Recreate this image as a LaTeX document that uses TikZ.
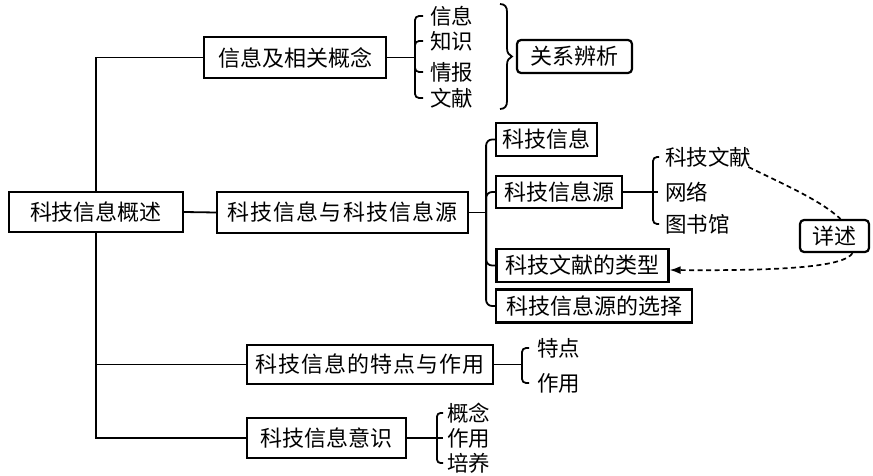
\documentclass[tikz,border=0pt]{standalone}
\usepackage{fontspec}
\setmainfont{Noto Sans CJK SC}
\usetikzlibrary{arrows.meta,calc}
\begin{document}
\begin{tikzpicture}[x=1pt,y=-1pt,
  mybox/.style={draw,line width=2.2pt,inner sep=0pt,font=\fontsize{22}{24}\selectfont},
  widebox/.style={mybox,font=\fontsize{22}{24}\selectfont\addfontfeature{LetterSpace=5}},
  rbox/.style={mybox,rounded corners=4pt},
  item/.style={anchor=west,inner sep=0pt,font=\fontsize{21.5}{23}\selectfont},
  conn/.style={line width=1.8pt},
  brace/.style={line width=1.8pt,rounded corners=4pt},
  dashconn/.style={line width=1.7pt,dash pattern=on 5pt off 3.5pt}]
\useasboundingbox[fill=white] (0,0) rectangle (873,476);

% main boxes
\node[mybox,minimum width=174pt,minimum height=40pt] (root) at (96,212) {科技信息概述};
\node[mybox,minimum width=182pt,minimum height=41pt] (b1) at (295,57.5) {信息及相关概念};
\node[widebox,minimum width=251pt,minimum height=41pt] (b2) at (342.5,212.5) {科技信息与科技信息源};
\node[widebox,minimum width=246pt,minimum height=39pt] (b3) at (370,364.5) {科技信息的特点与作用};
\node[mybox,minimum width=159pt,minimum height=40pt] (b4) at (326.5,438) {科技信息意识};

% second level boxes
\node[rbox,minimum width=115pt,minimum height=33pt] (rel) at (574.5,56.5) {关系辨析};
\node[mybox,minimum width=101pt,minimum height=33pt] (c1) at (546.5,139.5) {科技信息};
\node[mybox,minimum width=126pt,minimum height=32pt] (c2) at (559,192) {科技信息源};
\node[mybox,minimum width=172pt,minimum height=33pt] (c3) at (582.5,265.5) {科技文献的类型};
\node[mybox,minimum width=196pt,minimum height=33pt] (c4) at (594,306) {科技信息源的选择};
\node[rbox,minimum width=69pt,minimum height=32pt] (xs) at (834.5,236) {详述};

% items
\node[item] (t1) at (430,16) {信息};
\node[item] (t2) at (430,41) {知识};
\node[item] (t3) at (430,72) {情报};
\node[item] (t4) at (430,98) {文献};
\node[item] (s1) at (665,157) {科技文献};
\node[item] (s2) at (665,192) {网络};
\node[item] (s3) at (665,224) {图书馆};
\node[item] (f1) at (537,348) {特点};
\node[item] (f2) at (537,383) {作用};
\node[item] (g1) at (447,413) {概念};
\node[item] (g2) at (447,438) {作用};
\node[item] (g3) at (447,463) {培养};

% trunk
\draw[conn] (b1.west) -| (root.north);
\draw[conn] (root.south) |- (b4.west);
\draw[conn] (root.south |- b3.west) -- (b3.west);
\draw[conn] (root.east) -- (b2.west);

% branch of b2
\coordinate (j) at ($(b2.east)+(17,0)$);
\draw[conn] (b2.east) -- (j);
\draw[brace,rounded corners=6pt] (c1.west) -| (j) |- (c4.west);
\draw[brace,rounded corners=6pt] (c2.west) -| (j);
\draw[brace,rounded corners=6pt] (c3.west) -| (j);

% brace for 信息/知识/情报/文献
\draw[conn] (b1.east) -- ([xshift=-15pt]b1.east -| t1.west);
\draw[brace] ([xshift=-7pt]t1.west) -| ([xshift=-15pt]t4.west) -- ([xshift=-7pt]t4.west);
\draw[brace] ([xshift=-7pt]t2.west) -| ([xshift=-15pt,yshift=-10pt]t2.west);
\draw[brace] ([xshift=-7pt]t3.west) -| ([xshift=-15pt,yshift=10pt]t3.west);

% right brace to 关系辨析
\draw[conn] (500,4) .. controls (505,4) and (507,7) .. (507,12) -- (507,48)
  .. controls (507,53) and (509,55) .. ([xshift=-4pt]rel.west)
  .. controls (509,58) and (507,60) .. (507,65) -- (507,101)
  .. controls (507,106) and (505,109) .. (500,109);

% brace for 科技信息源
\draw[conn] (c2.east) -- ([xshift=-7pt]c2.east -| s2.west);
\draw[brace] ([xshift=-6pt]s1.west) -| ([xshift=-12pt]s3.west) -- ([xshift=-6pt]s3.west);

% brace for 特点/作用
\draw[conn] (b3.east) -- ([xshift=-15pt]b3.east -| f1.west);
\draw[brace] ([xshift=-8pt]f1.west) -| ([xshift=-15pt]f2.west) -- ([xshift=-8pt]f2.west);

% brace for 概念/作用/培养
\draw[conn] (b4.east) -- ([xshift=-4pt]b4.east -| g2.west);
\draw[brace,rounded corners=3.5pt] ([xshift=-4pt]g1.west) -| ([xshift=-10pt]g3.west) -- ([xshift=-4pt]g3.west);

% dashed connectors
\draw[dashconn] ([xshift=-3pt,yshift=-10pt]s1.east) .. controls (785,185) and (820,200) .. ([xshift=6pt]xs.north);
\draw[dashconn,-{Latex[length=11pt,width=8pt]}] ([xshift=18pt]xs.south) .. controls (845,266) and (790,271) .. ([yshift=-4.5pt]c3.east);
\end{tikzpicture}
\end{document}
